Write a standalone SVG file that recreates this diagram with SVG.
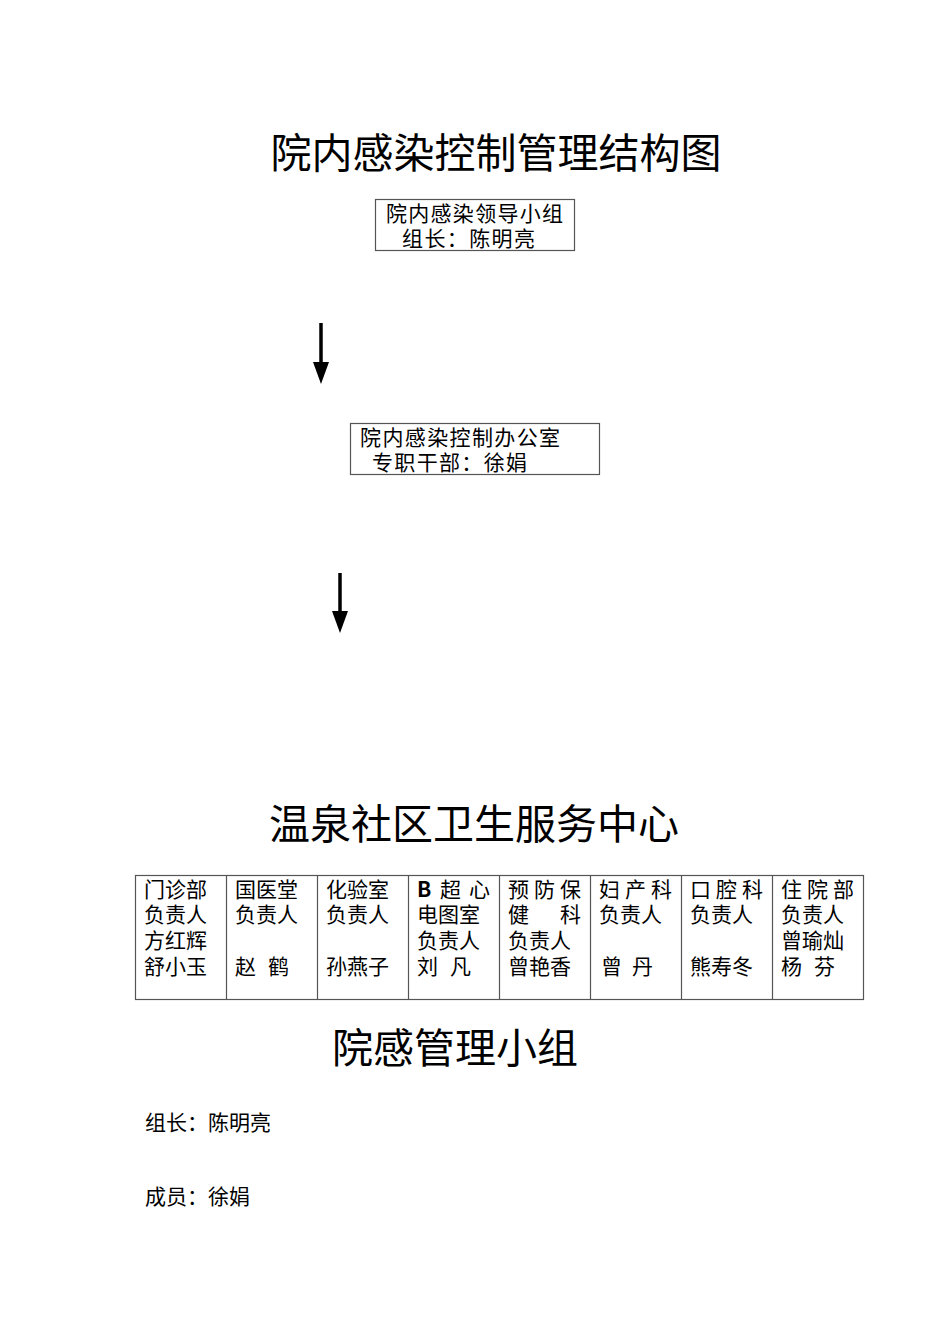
<svg xmlns="http://www.w3.org/2000/svg" width="950" height="1344" viewBox="0 0 950 1344">
<style>
text{font-family:"Noto Sans CJK SC","Liberation Sans",sans-serif;fill:#000}
.t{font-size:41px}
.b{font-size:21px}
.c{font-size:21px}
.box{fill:none;stroke:#555;stroke-width:1.2}
.ln{stroke:#555;stroke-width:1.2}
</style>
<rect width="950" height="1344" fill="#fff"/>
<text class="t" x="496" y="168" text-anchor="middle">院内感染控制管理结构图</text>
<g id="n1"><rect class="box" x="375.5" y="199.5" width="199" height="51"/>
<text class="b" x="386" y="221" textLength="177">院内感染领导小组</text><text class="b" x="402" y="246" textLength="133">组长：陈明亮</text></g>
<g id="n2"><rect class="box" x="350.5" y="423.5" width="249" height="51"/>
<text class="b" x="360" y="445" textLength="200">院内感染控制办公室</text><text class="b" x="372" y="470" textLength="155">专职干部：徐娟</text></g>
<g id="connectors">
<line x1="321" y1="323" x2="321" y2="364" stroke="#000" stroke-width="3.5"/><path d="M313,362 L329,362 L321,384Z"/>
<line x1="340" y1="573" x2="340" y2="613" stroke="#000" stroke-width="3.5"/><path d="M332,611 L348,611 L340,633Z"/>
</g>
<text class="t" x="474" y="839" text-anchor="middle">温泉社区卫生服务中心</text>
<g id="table">
<rect class="box" x="135.5" y="875.5" width="728" height="124"/>
<line class="ln" x1="226.5" y1="875" x2="226.5" y2="999"/>
<line class="ln" x1="317.5" y1="875" x2="317.5" y2="999"/>
<line class="ln" x1="408.5" y1="875" x2="408.5" y2="999"/>
<line class="ln" x1="499.5" y1="875" x2="499.5" y2="999"/>
<line class="ln" x1="590.5" y1="875" x2="590.5" y2="999"/>
<line class="ln" x1="681.5" y1="875" x2="681.5" y2="999"/>
<line class="ln" x1="772.5" y1="875" x2="772.5" y2="999"/>
<g class="c">
<text x="144" y="897">门诊部</text><text x="144" y="922">负责人</text><text x="144" y="948">方红辉</text><text x="144" y="974">舒小玉</text>
<text x="235" y="897">国医堂</text><text x="235" y="922">负责人</text><text x="235" y="974">赵</text><text x="268" y="974">鹤</text>
<text x="326" y="897">化验室</text><text x="326" y="922">负责人</text><text x="326" y="974">孙燕子</text>
<text x="417" y="897" font-weight="bold" font-family="Liberation Serif">B</text><text x="440" y="897">超</text><text x="469" y="897">心</text><text x="417" y="922">电图室</text><text x="417" y="948">负责人</text><text x="417" y="974">刘</text><text x="450" y="974">凡</text>
<text x="508" y="897" textLength="73" lengthAdjust="spacing">预防保</text><text x="508" y="922">健</text><text x="560" y="922">科</text><text x="508" y="948">负责人</text><text x="508" y="974">曾艳香</text>
<text x="599" y="897" textLength="73" lengthAdjust="spacing">妇产科</text><text x="599" y="922">负责人</text><text x="601" y="974">曾</text><text x="632" y="974">丹</text>
<text x="690" y="897" textLength="73" lengthAdjust="spacing">口腔科</text><text x="690" y="922">负责人</text><text x="690" y="974">熊寿冬</text>
<text x="781" y="897" textLength="73" lengthAdjust="spacing">住院部</text><text x="781" y="922">负责人</text><text x="781" y="948">曾瑜灿</text><text x="781" y="974">杨</text><text x="814" y="974">芬</text>
</g></g>
<text class="t" x="455" y="1063" text-anchor="middle">院感管理小组</text>
<text class="c" x="145" y="1130">组长：陈明亮</text>
<text class="c" x="145" y="1204">成员：徐娟</text>
</svg>
